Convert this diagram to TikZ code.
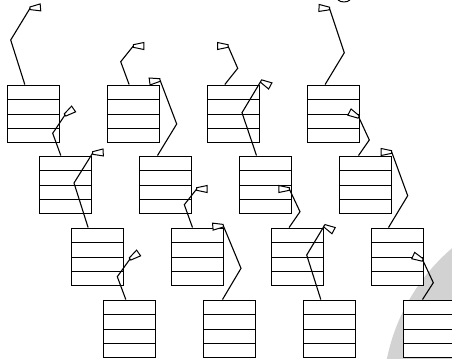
\documentclass[tikz,border=0pt]{standalone}
\usetikzlibrary{calc}
\tikzset{
  cellbox/.style={draw, fill=white, line width=1.2bp, minimum width=52bp,
    minimum height=57bp, inner sep=0pt, anchor=north west,
    path picture={
      \draw[line width=1.2bp] ([yshift=-14bp]path picture bounding box.north west) -- ([yshift=-14bp]path picture bounding box.north east);
      \draw[line width=1.2bp] ([yshift=-29bp]path picture bounding box.north west) -- ([yshift=-29bp]path picture bounding box.north east);
      \draw[line width=1.2bp] ([yshift=-43bp]path picture bounding box.north west) -- ([yshift=-43bp]path picture bounding box.north east);
    }},
  wire/.style={line width=1.1bp, line join=miter},
  pics/tipflag/.style={code={
    \draw[line width=1bp, fill=white, line join=miter] (0,-1.3) -- (10.5,-3.5) -- (10.5,3.5) -- (0,1.3) -- cycle;}},
}
\begin{document}
\begin{tikzpicture}[x=1bp,y=-1bp]
\useasboundingbox (0,0) rectangle (452,358);
% grey disc
\begin{scope}
\clip (0,0) rectangle (452,358);
\fill[gray!35] (580,398) circle (197);
\end{scope}
% small arc fragment at the top
\draw[line width=1bp] (338,0) .. controls (341,2.6) and (347,2.6) .. (350,0);
% boxes
\foreach \r/\yy in {1/84.5,2/155.5,3/227.5,4/299.5}{
  \foreach \c in {1,...,4}{
    \node[cellbox] (b\r\c) at ({6.5+32*(\r-1)+100*(\c-1)},\yy) {};
  }
}
% kink and end coordinates
\coordinate (k11) at (10.7,40);    \coordinate (e11) at (30,8.3);
\coordinate (k12) at (120.7,61.7); \coordinate (e12) at (133.3,46);
\coordinate (k13) at (237.7,68.3); \coordinate (e13) at (228,46);
\coordinate (k14) at (344.3,52.7); \coordinate (e14) at (329.5,8.5);
\coordinate (k21) at (52.7,133.3); \coordinate (e21) at (65,115);
\coordinate (k22) at (176.7,124);  \coordinate (e22) at (160,80);
\coordinate (k23) at (242,112.7);  \coordinate (e23) at (261,81);
\coordinate (k24) at (369.3,140);  \coordinate (e24) at (358.7,117);
\coordinate (k31) at (74,183);     \coordinate (e31) at (92.7,153);
\coordinate (k32) at (184.3,204.7);\coordinate (e32) at (196.7,189);
\coordinate (k33) at (300,211.7);  \coordinate (e33) at (289.3,189);
\coordinate (k34) at (407.7,195.7);\coordinate (e34) at (391.7,152);
\coordinate (k41) at (117.3,276.7);\coordinate (e41) at (130,259);
\coordinate (k42) at (241,268.3);  \coordinate (e42) at (223.3,225.7);
\coordinate (k43) at (306.7,255);  \coordinate (e43) at (324.3,225.7);
\coordinate (k44) at (433.3,282.7);\coordinate (e44) at (422.7,260);
% connectors
\foreach \n/\off in {11/18.3,12/22.6,13/18.3,14/18.6,21/22.3,22/19,23/18,24/20,31/17.6,32/22,33/18.6,34/18,41/23.3,42/20,43/18.3,44/20}{
  \draw[wire] ([xshift=\off bp]b\n.north west) -- (k\n) -- (e\n);
}
% flags
\foreach \n/\a in {11/5,12/0,13/180,14/177,21/35,22/188,23/-28,24/152,31/3,32/0,33/180,34/180,41/35,42/185,43/-28,44/155}{
  \pic[rotate=\a] at (e\n) {tipflag};
}
\end{tikzpicture}
\end{document}
